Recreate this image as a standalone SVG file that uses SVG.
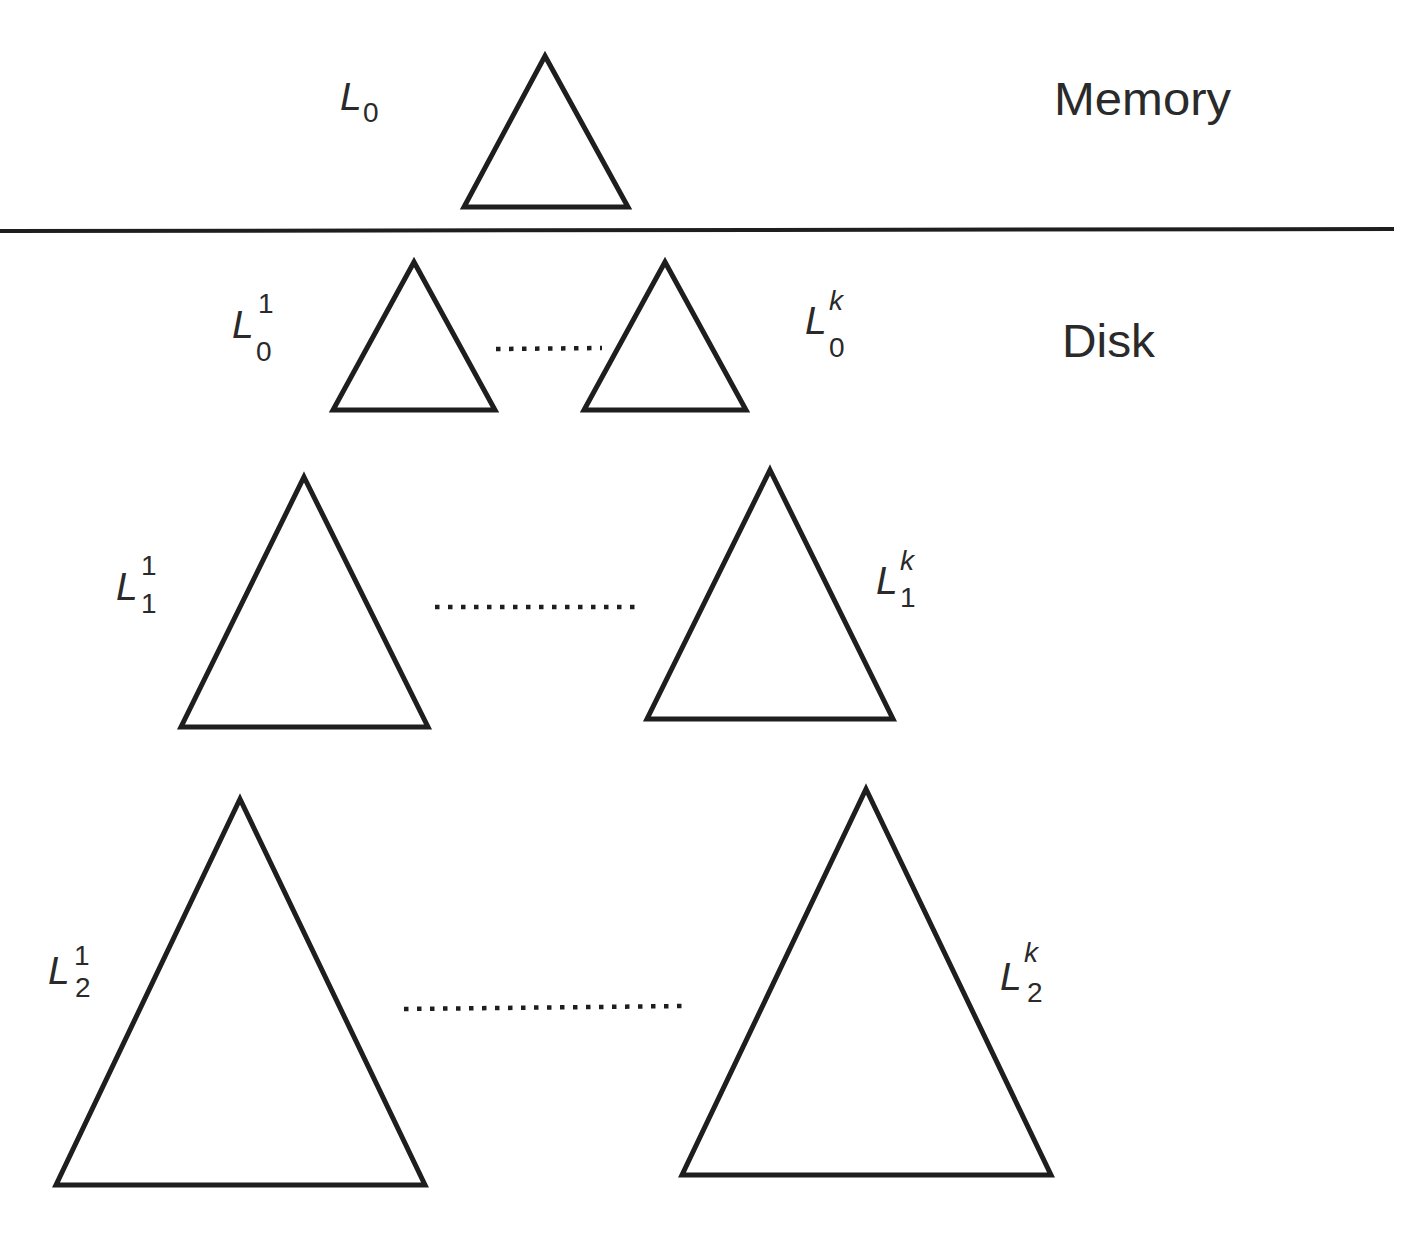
<svg xmlns="http://www.w3.org/2000/svg" width="1419" height="1247" viewBox="0 0 1419 1247">
<style>
.tri{fill:#ffffff;stroke:#1e1e1e;stroke-width:5;stroke-linejoin:miter}
.dots{fill:none;stroke:#1e1e1e;stroke-width:4.5;stroke-dasharray:4.5 8.5}
.sep{stroke:#1e1e1e;stroke-width:4}
.lbl{font-family:"Liberation Sans",Arial,sans-serif;fill:#2a2a2a}
.L{font-size:39px;font-style:italic}
.s{font-size:28px}
.big{font-size:46px}
</style>
<rect width="1419" height="1247" fill="#ffffff"/>
<line class="sep" x1="0" y1="231" x2="1394" y2="229"/>
<text class="lbl big" x="1054" y="115" textLength="177" lengthAdjust="spacingAndGlyphs">Memory</text>
<text class="lbl big" x="1062" y="357" textLength="93" lengthAdjust="spacingAndGlyphs">Disk</text>
<g id="mem-L0">
<polygon class="tri" points="545,56 628,207 464,207"/>
<text class="lbl L" x="340" y="110">L</text>
<text class="lbl s" x="363" y="122">0</text>
</g>
<g id="L0-1">
<polygon class="tri" points="414,262 495,410 333,410"/>
<text class="lbl L" x="232" y="338">L</text>
<text class="lbl s" x="258" y="313">1</text>
<text class="lbl s" x="256" y="361">0</text>
</g>
<g id="L0-k">
<polygon class="tri" points="665,262 746,410 584,410"/>
<text class="lbl L" x="805" y="334">L</text>
<text class="lbl s" x="829" y="310" font-style="italic">k</text>
<text class="lbl s" x="829" y="357">0</text>
</g>
<g id="L1-1">
<polygon class="tri" points="304,477 428,727 181,727"/>
<text class="lbl L" x="116" y="600">L</text>
<text class="lbl s" x="141" y="575">1</text>
<text class="lbl s" x="141" y="613">1</text>
</g>
<g id="L1-k">
<polygon class="tri" points="770,470 893,719 647,719"/>
<text class="lbl L" x="876" y="594">L</text>
<text class="lbl s" x="900" y="570" font-style="italic">k</text>
<text class="lbl s" x="900" y="607">1</text>
</g>
<g id="L2-1">
<polygon class="tri" points="240,799 425,1185 56,1185"/>
<text class="lbl L" x="48" y="984">L</text>
<text class="lbl s" x="74" y="965">1</text>
<text class="lbl s" x="75" y="997">2</text>
</g>
<g id="L2-k">
<polygon class="tri" points="866,789 1051,1175 682,1175"/>
<text class="lbl L" x="1000" y="990">L</text>
<text class="lbl s" x="1024" y="962" font-style="italic">k</text>
<text class="lbl s" x="1027" y="1002">2</text>
</g>
<g id="connectors">
<line class="dots" x1="496" y1="349" x2="602" y2="348"/>
<line class="dots" x1="435" y1="607" x2="637" y2="607"/>
<line class="dots" x1="404" y1="1009" x2="686" y2="1006"/>
</g>
</svg>
